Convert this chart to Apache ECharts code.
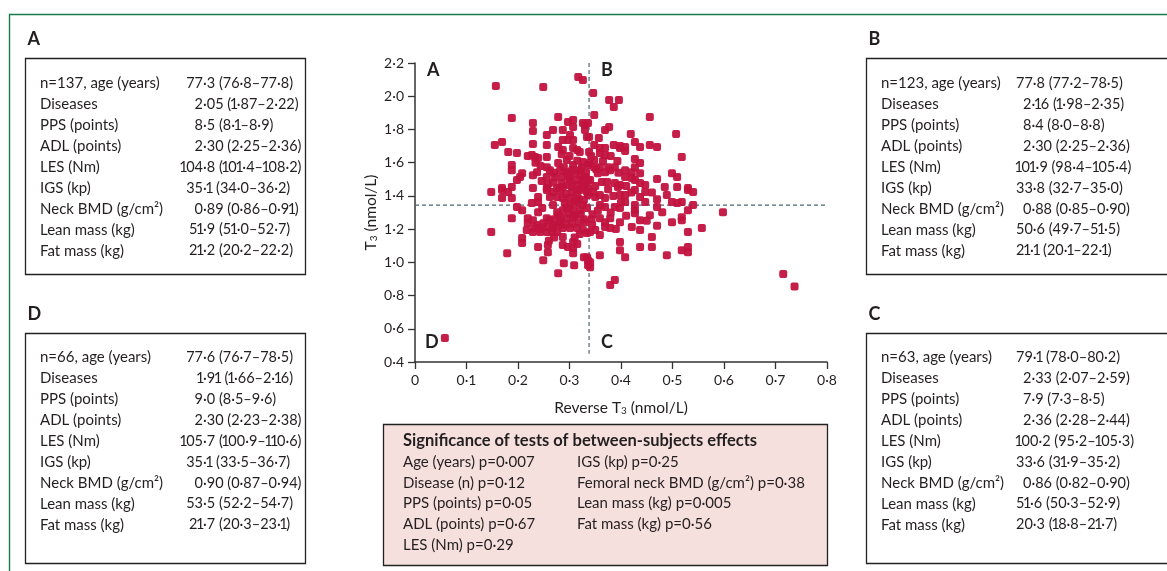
<!DOCTYPE html>
<html><head><meta charset="utf-8">
<script src="https://cdn.jsdelivr.net/npm/echarts@6/dist/echarts.min.js"></script>
<style>html,body{margin:0;padding:0;background:#fff}#c{width:1167px;height:571px}</style>
</head><body><div id="c"></div>
<script>
// ---------- DATA ----------
const xTicks = [0, 0.1, 0.2, 0.3, 0.4, 0.5, 0.6, 0.7, 0.8];
const yTicks = [0.4, 0.6, 0.8, 1.0, 1.2, 1.4, 1.6, 1.8, 2.0, 2.2];
const cutReverseT3 = 0.338;
const cutT3 = 1.345;
const quadrantLabels = ['A', 'B', 'C', 'D'];
const rowLabels = ['age (years)', 'Diseases', 'PPS (points)', 'ADL (points)', 'LES (Nm)', 'IGS (kp)', 'Neck BMD (g/cm²)', 'Lean mass (kg)', 'Fat mass (kg)'];
const groupN = { A: 137, B: 123, C: 63, D: 66 };
const valuesA = ['77·3 (76·8–77·8)', '2·05 (1·87–2·22)', '8·5 (8·1–8·9)', '2·30 (2·25–2·36)', '104·8 (101·4–108·2)', '35·1 (34·0–36·2)', '0·89 (0·86–0·91)', '51·9 (51·0–52·7)', '21·2 (20·2–22·2)'];
const valuesB = ['77·8 (77·2–78·5)', '2·16 (1·98–2·35)', '8·4 (8·0–8·8)', '2·30 (2·25–2·36)', '101·9 (98·4–105·4)', '33·8 (32·7–35·0)', '0·88 (0·85–0·90)', '50·6 (49·7–51·5)', '21·1 (20·1–22·1)'];
const valuesC = ['79·1 (78·0–80·2)', '2·33 (2·07–2·59)', '7·9 (7·3–8·5)', '2·36 (2·28–2·44)', '100·2 (95·2–105·3)', '33·6 (31·9–35·2)', '0·86 (0·82–0·90)', '51·6 (50·3–52·9)', '20·3 (18·8–21·7)'];
const valuesD = ['77·6 (76·7–78·5)', '1·91 (1·66–2·16)', '9·0 (8·5–9·6)', '2·30 (2·23–2·38)', '105·7 (100·9–110·6)', '35·1 (33·5–36·7)', '0·90 (0·87–0·94)', '53·5 (52·2–54·7)', '21·7 (20·3–23·1)'];
const sigTitle = 'Significance of tests of between-subjects effects';
const sigCol1 = ['Age (years) p=0·007', 'Disease (n) p=0·12', 'PPS (points) p=0·05', 'ADL (points) p=0·67', 'LES (Nm) p=0·29'];
const sigCol2 = ['IGS (kp) p=0·25', 'Femoral neck BMD (g/cm²) p=0·38', 'Lean mass (kg) p=0·005', 'Fat mass (kg) p=0·56'];
// [reverse T3, T3] (nmol/L)
const points = [
[0.317,2.116],[0.326,2.098],[0.157,2.061],[0.249,2.055],[0.346,2.019],
[0.188,1.869],[0.229,1.839],[0.229,1.790],[0.278,1.875],[0.297,1.845],[0.307,1.857],[0.326,1.839],[0.268,1.796],[0.256,1.766],[0.287,1.796],[0.307,1.814],[0.330,1.796],[0.301,1.766],[0.307,1.736],[0.297,1.736],[0.287,1.736],[0.169,1.724],[0.155,1.706],[0.181,1.664],[0.198,1.658],[0.229,1.712],[0.256,1.706],[0.278,1.694],[0.287,1.676],[0.307,1.688],[0.315,1.676],[0.320,1.664],[0.334,1.754],[0.219,1.640],[0.227,1.646],[0.233,1.634],[0.239,1.628],[0.256,1.634],[0.278,1.598],[0.295,1.616],[0.307,1.586],[0.326,1.604],[0.336,1.586],[0.188,1.586],[0.188,1.555],[0.208,1.537],[0.204,1.513],[0.198,1.495],[0.237,1.543],[0.229,1.525],[0.256,1.573],[0.262,1.555],[0.256,1.513],[0.272,1.513],[0.287,1.513],[0.301,1.495],[0.315,1.495],[0.326,1.495],[0.340,1.495],[0.282,1.555],[0.295,1.543],[0.305,1.555],[0.320,1.555],[0.169,1.447],[0.188,1.453],[0.229,1.447],[0.256,1.447],[0.276,1.447],[0.305,1.453],[0.326,1.477],
[0.377,1.977],[0.396,1.977],[0.386,1.935],[0.348,1.887],[0.456,1.875],[0.336,1.839],[0.330,1.827],[0.369,1.796],[0.377,1.814],[0.338,1.754],[0.357,1.748],[0.419,1.772],[0.507,1.772],[0.427,1.724],[0.437,1.694],[0.456,1.706],[0.470,1.694],[0.348,1.706],[0.359,1.688],[0.369,1.688],[0.359,1.658],[0.369,1.646],[0.386,1.706],[0.398,1.700],[0.408,1.694],[0.408,1.670],[0.398,1.688],[0.338,1.664],[0.518,1.634],[0.427,1.622],[0.437,1.598],[0.427,1.573],[0.348,1.616],[0.348,1.573],[0.338,1.598],[0.359,1.573],[0.375,1.573],[0.388,1.573],[0.499,1.537],[0.509,1.513],[0.408,1.555],[0.421,1.543],[0.437,1.537],[0.408,1.513],[0.421,1.507],[0.470,1.501],[0.355,1.537],[0.369,1.543],[0.379,1.555],[0.363,1.483],[0.373,1.483],[0.388,1.477],[0.398,1.465],[0.427,1.495],[0.437,1.477],[0.447,1.465],[0.485,1.453],[0.509,1.453],[0.530,1.447],[0.330,1.513],[0.336,1.495],[0.330,1.465],
[0.148,1.423],[0.169,1.435],[0.181,1.423],[0.169,1.387],[0.188,1.387],
[0.256,1.435],[0.268,1.423],[0.282,1.435],[0.287,1.453],[0.262,1.393],[0.276,1.393],[0.287,1.387],[0.301,1.387],[0.315,1.405],[0.320,1.435],[0.326,1.447],[0.334,1.423],
[0.239,1.393],[0.239,1.363],[0.227,1.357],[0.198,1.333],[0.208,1.314],[0.247,1.327],[0.239,1.302],[0.268,1.345],[0.276,1.302],[0.278,1.284],[0.301,1.345],[0.315,1.357],[0.326,1.345],[0.295,1.327],[0.307,1.314],[0.320,1.314],[0.334,1.327],
[0.188,1.266],[0.219,1.266],[0.229,1.254],[0.219,1.236],[0.237,1.224],[0.239,1.206],[0.256,1.266],[0.262,1.254],[0.217,1.194],[0.229,1.182],[0.243,1.182],[0.256,1.182],[0.266,1.182],[0.276,1.182],[0.249,1.236],[0.268,1.224],[0.282,1.242],[0.295,1.266],[0.307,1.272],[0.287,1.206],[0.301,1.206],[0.315,1.206],[0.326,1.194],[0.334,1.176],[0.287,1.152],
[0.148,1.182],[0.208,1.146],[0.208,1.116],[0.239,1.092],[0.258,1.104],[0.258,1.061],[0.287,1.104],[0.297,1.092],[0.307,1.122],[0.307,1.086],[0.307,1.055],[0.179,1.055],[0.249,1.013],[0.289,0.995],[0.309,0.983],[0.278,0.935],[0.328,1.031],[0.336,1.013],[0.336,0.983],
[0.336,1.447],[0.346,1.423],[0.336,1.405],[0.350,1.393],[0.359,1.405],[0.369,1.387],[0.394,1.453],[0.398,1.405],[0.408,1.405],[0.408,1.363],[0.427,1.435],[0.437,1.393],[0.447,1.423],[0.447,1.363],[0.427,1.345],[0.427,1.314],[0.427,1.296],[0.489,1.405],[0.530,1.435],[0.540,1.423],[0.359,1.345],[0.369,1.333],[0.388,1.333],[0.398,1.327],[0.470,1.333],[0.480,1.302],[0.499,1.363],[0.509,1.357],[0.518,1.363],[0.540,1.345],[0.530,1.314],[0.456,1.284],[0.598,1.302],
[0.330,1.242],[0.344,1.224],[0.359,1.266],[0.369,1.242],[0.379,1.266],[0.379,1.206],[0.350,1.194],[0.359,1.164],[0.369,1.212],[0.340,1.182],[0.398,1.242],[0.437,1.254],[0.421,1.212],[0.437,1.194],[0.499,1.242],[0.518,1.272],[0.518,1.254],[0.557,1.206],[0.530,1.182],[0.460,1.152],[0.398,1.122],[0.398,1.073],[0.408,1.031],[0.437,1.092],[0.460,1.092],[0.489,1.043],[0.518,1.073],[0.530,1.092],[0.530,1.061],[0.359,1.043],[0.334,1.031],[0.340,1.001],[0.340,0.971],[0.379,0.863],[0.388,0.893],
[0.058,0.545],[0.715,0.930],[0.737,0.855],
[0.289,1.573],[0.297,1.525],[0.311,1.537],[0.322,1.525],[0.313,1.465],[0.297,1.465],[0.284,1.477],[0.305,1.423],[0.293,1.411],[0.318,1.381],[0.328,1.375],[0.309,1.369],[0.291,1.357],[0.322,1.290],[0.311,1.284],[0.299,1.296],[0.287,1.314],[0.328,1.260],[0.318,1.242],[0.305,1.236],[0.293,1.230],[0.280,1.224],[0.268,1.206],[0.255,1.212],[0.244,1.200],[0.232,1.206],[0.270,1.260],[0.283,1.272],[0.315,1.611],[0.300,1.640],[0.285,1.650],[0.324,1.570],[0.332,1.540],[0.315,1.440],[0.300,1.510],[0.268,1.480],[0.258,1.470],[0.246,1.489],[0.270,1.540],[0.244,1.580],[0.234,1.600],[0.350,1.460],[0.345,1.290],[0.355,1.310],[0.320,1.170],[0.310,1.150],[0.270,1.150],[0.260,1.130],[0.315,1.110],[0.343,1.260],[0.352,1.560],[0.342,1.640],[0.365,1.610],[0.380,1.640],[0.393,1.610],[0.395,1.540],[0.410,1.460],[0.420,1.420],[0.460,1.420],[0.470,1.380],[0.380,1.300],[0.410,1.280],[0.450,1.250],[0.470,1.220],[0.390,1.200],[0.375,1.440],[0.385,1.400],[0.400,1.360]
];

// ---------- LAYOUT / STYLE ----------
const FONT = "Lato, 'Open Sans', sans-serif";
const INK = '#231f20';
const RED = '#c2133f';
const DASH = '#4a6470';
const FS = 15;
const FSV = 14.5;

function txt(x, y, s, o) {
  o = o || {};
  return { type: 'text', x: x, y: y, silent: true, z: 10,
    style: { text: s, fill: INK, fontSize: o.size || FS, fontFamily: FONT, fontWeight: o.bold ? 'bold' : 'normal',
      textAlign: o.align || 'left', align: o.align || 'left', textVerticalAlign: 'middle', verticalAlign: 'middle' } };
}
// value text with proportional-width "1" (rich tokens)
const numRich = {
  n: { fontSize: FSV, fontFamily: FONT, color: INK, align: 'center' },
  o: { fontSize: FSV, fontFamily: FONT, color: INK, align: 'center', width: 5.6 }
};
function richNum(s) {
  let out = '', run = '';
  for (const ch of s) {
    if (ch === '1') { if (run) { out += '{n|' + run + '}'; run = ''; } out += '{o|1}'; }
    else run += ch;
  }
  if (run) out += '{n|' + run + '}';
  return out;
}
function numTxt(x, y, s, align) {
  return { type: 'text', x: x, y: y, silent: true, z: 10,
    style: { text: richNum(s), rich: numRich, fill: INK, fontSize: FSV, fontFamily: FONT,
      textAlign: align || 'left', align: align || 'left', textVerticalAlign: 'middle', verticalAlign: 'middle' } };
}
function rect(x, y, w, h, fill) {
  return { type: 'rect', silent: true, shape: { x: x, y: y, width: w, height: h },
    style: { fill: fill || 'none', stroke: '#222', lineWidth: 1.3 } };
}
const els = [];
// green frame
els.push({ type: 'polyline', silent: true, shape: { points: [[9.5, 580], [9.5, 14.5], [1180, 14.5]] },
  style: { fill: 'none', stroke: '#1b7b4c', lineWidth: 1.4 } });

function box(key, vals, bx, by, bw, bh, labelX, valMode, decX, rowY0) {
  els.push(txt(bx + 2, by - 19, key, { bold: true, size: 18 }));
  els.push(rect(bx, by, bw, bh));
  for (let i = 0; i < rowLabels.length; i++) {
    const y = rowY0 + i * 20.9;
    const lab = i === 0 ? 'n=' + groupN[key] + ', ' + rowLabels[0] : rowLabels[i];
    els.push(txt(labelX, y, lab));
    const v = vals[i];
    const k = v.indexOf('·');
    const ip = v.slice(0, k), rest = v.slice(k);
    if (valMode === 'dec') {
      els.push(numTxt(decX, y, ip, 'right'));
      els.push(numTxt(decX, y, rest));
    } else {
      els.push(numTxt(ip.length >= 2 ? decX : decX + 7, y, v));
    }
  }
}
box('A', valuesA, 25.5, 58.5, 280, 216, 40, 'dec', 203, 83.5);
box('B', valuesB, 866.5, 58.5, 320, 216, 881, 'left', 1016, 83.5);
box('D', valuesD, 25.5, 333.5, 280, 230, 40, 'dec', 203, 357.5);
box('C', valuesC, 866.5, 333.5, 320, 230, 881, 'left', 1016, 357.5);

// significance box
els.push(rect(383.5, 424.5, 444, 141, '#f6e0dd'));
els.push(txt(403, 441, sigTitle, { bold: true, size: 16.5 }));
sigCol1.forEach((s, i) => els.push(txt(403, 462 + i * 20.8, s)));
sigCol2.forEach((s, i) => els.push(txt(577, 462 + i * 20.8, s)));

// quadrant labels
const qPos = { A: [427, 70], B: [601, 70], C: [601, 342], D: [425, 342] };
quadrantLabels.forEach(q => els.push(txt(qPos[q][0], qPos[q][1], q, { bold: true, size: 18 })));

const fmt = v => (Math.abs(v) < 1e-9 ? '0' : v.toFixed(1).replace('.', '·'));
const rich = { a: { fontSize: 15.5, fontFamily: FONT, color: INK }, s: { fontSize: 10, fontFamily: FONT, color: INK, verticalAlign: 'bottom', padding: [7, 0, 0, 0] } };

const chart = echarts.init(document.getElementById('c'), null, { renderer: 'canvas' });
chart.setOption({
  animation: false,
  backgroundColor: '#ffffff',
  grid: { left: 415, top: 63, width: 412, height: 299, containLabel: false },
  xAxis: {
    type: 'value', min: xTicks[0], max: xTicks[xTicks.length - 1], interval: 0.1,
    name: '{a|Reverse T}{s|3}{a| (nmol/L)}', nameLocation: 'middle', nameGap: 37,
    nameTextStyle: { rich: rich },
    axisLine: { onZero: false, lineStyle: { color: '#333', width: 1.5 } },
    axisTick: { show: true, length: 7, lineStyle: { color: '#333', width: 1.3 } },
    axisLabel: { formatter: fmt, color: INK, fontSize: 14, fontFamily: FONT, margin: 11 },
    splitLine: { show: false }
  },
  yAxis: {
    type: 'value', min: yTicks[0], max: yTicks[yTicks.length - 1], interval: 0.2,
    name: '{a|T}{s|3}{a| (nmol/L)}', nameLocation: 'middle', nameGap: 36, nameRotate: 90,
    nameTextStyle: { rich: rich },
    axisLine: { onZero: false, lineStyle: { color: '#333', width: 1.5 } },
    axisTick: { show: true, length: 7, lineStyle: { color: '#333', width: 1.3 } },
    axisLabel: { formatter: fmt, color: INK, fontSize: 14, fontFamily: FONT, margin: 11 },
    splitLine: { show: false }
  },
  series: [
    { type: 'line', data: [[cutReverseT3, yTicks[yTicks.length - 1]], [cutReverseT3, 0.45]], symbol: 'none', silent: true,
      lineStyle: { color: DASH, width: 1.2, type: [4, 3] }, z: 1 },
    { type: 'line', data: [[xTicks[0], cutT3], [xTicks[xTicks.length - 1], cutT3]], symbol: 'none', silent: true,
      lineStyle: { color: DASH, width: 1.2, type: [4, 3] }, z: 1 },
    { type: 'scatter', data: points, symbol: 'roundRect', symbolSize: 8,
      itemStyle: { color: RED, opacity: 0.95 }, z: 3 }
  ],
  graphic: { elements: els }
});
</script></body></html>
